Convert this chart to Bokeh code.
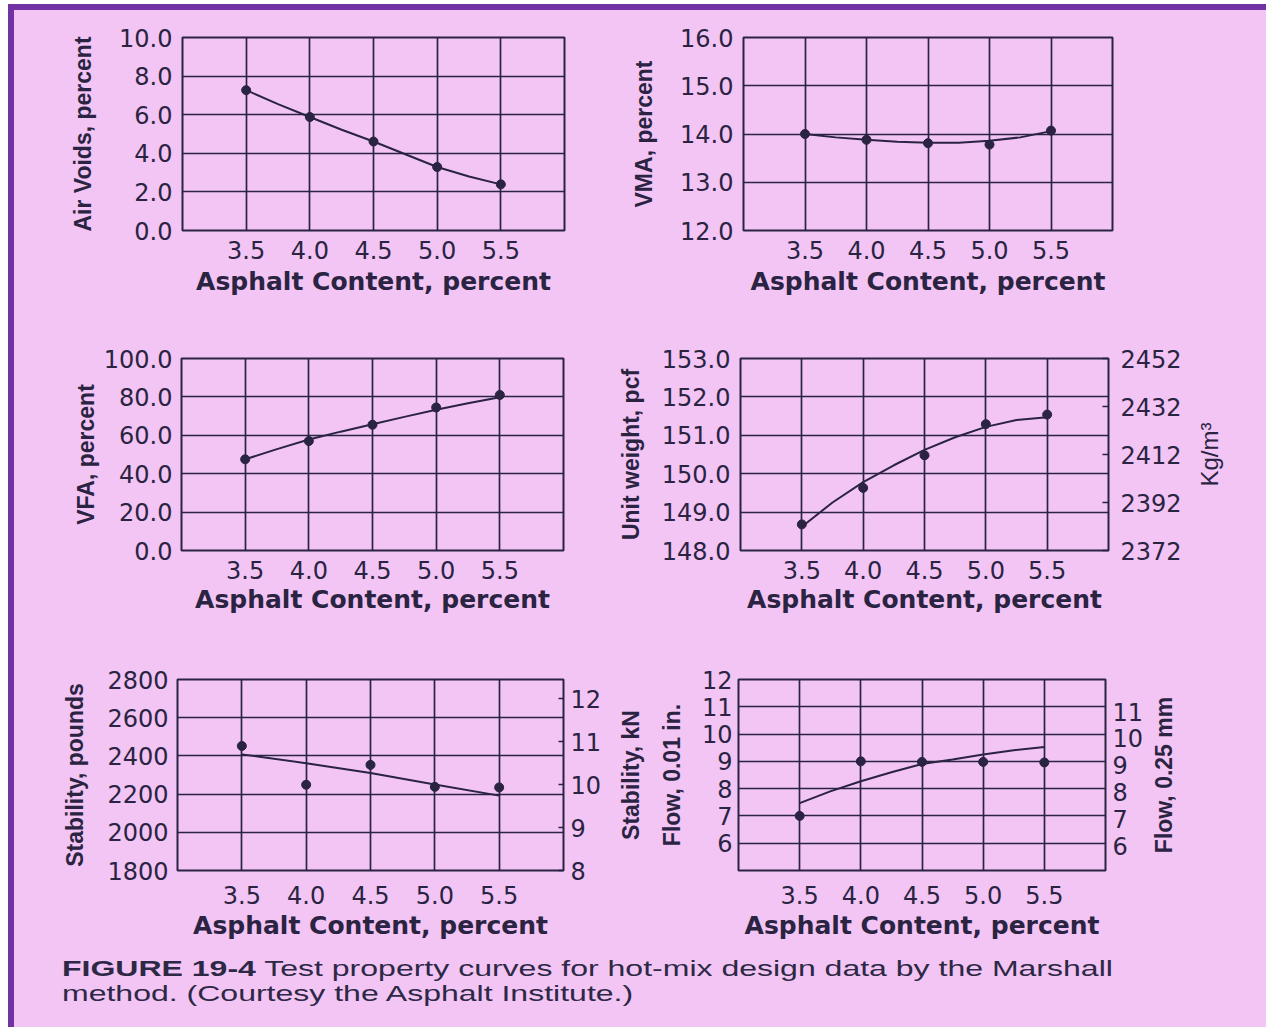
import math
from bokeh.plotting import figure
from bokeh.models import Range1d, LinearAxis, FixedTicker, NumeralTickFormatter, Div
from bokeh.layouts import column, row
from bokeh.embed import file_html
from bokeh.resources import INLINE

INK = "#2A2342"
PINK = "#F2C5F4"
PURPLE = "#7232A4"

# ---------------- data ----------------
asphalt = [3.5, 4.0, 4.5, 5.0, 5.5]
curve_x = [3.5, 3.75, 4.0, 4.25, 4.5, 4.75, 5.0, 5.25, 5.5]
x_ticks = [3.5, 4.0, 4.5, 5.0, 5.5]

air_voids = [7.27, 5.88, 4.61, 3.29, 2.39]
air_voids_curve = [7.27, 6.55, 5.88, 5.22, 4.61, 3.95, 3.29, 2.80, 2.39]
air_ticks = [0, 2, 4, 6, 8, 10]

vma = [14.0, 13.88, 13.81, 13.78, 14.07]
vma_curve = [14.0, 13.93, 13.88, 13.84, 13.82, 13.82, 13.86, 13.93, 14.06]
vma_ticks = [12, 13, 14, 15, 16]

vfa = [47.5, 57.0, 65.5, 74.5, 81.0]
vfa_curve = [47.5, 52.8, 57.8, 61.9, 65.8, 69.6, 73.3, 76.7, 79.8]
vfa_ticks = [0, 20, 40, 60, 80, 100]

unit_wt = [148.68, 149.63, 150.48, 151.29, 151.54]
unit_wt_curve = [148.62, 149.25, 149.78, 150.22, 150.62, 150.95, 151.22, 151.40, 151.47]
unit_wt_ticks = [148, 149, 150, 151, 152, 153]
kgm3_ticks = [2372, 2392, 2412, 2432, 2452]

stability = [2452, 2249, 2353, 2238, 2235]
stability_curve = [2408, 2362, 2310, 2250, 2192]
stability_ticks = [1800, 2000, 2200, 2400, 2600, 2800]
kn_ticks = [8, 9, 10, 11, 12]

flow = [7.0, 9.0, 8.98, 8.98, 8.96]
flow_curve = [7.47, 7.90, 8.27, 8.60, 8.90, 9.07, 9.25, 9.41, 9.53]
flow_ticks = [6, 7, 8, 9, 10, 11, 12]
flow_mm_ticks = [6, 7, 8, 9, 10, 11]

LBF_PER_KN = 224.809
MM_PER_UNIT = 0.254 / 0.25

TICK_FONT = "DejaVu Sans"
TICK_SIZE = "24px"
XTITLE_FONT = "DejaVu Sans"
XTITLE_SIZE = "25px"
YTITLE_FONT = "Liberation Sans"
YTITLE_SIZE = "23px"


def style_axis(ax):
    ax.axis_line_color = None
    ax.major_tick_line_color = None
    ax.minor_tick_line_color = None
    ax.major_tick_out = 0
    ax.major_tick_in = 0
    ax.minor_tick_out = 0
    ax.minor_tick_in = 0
    ax.major_label_text_font = TICK_FONT
    ax.major_label_text_font_size = TICK_SIZE
    ax.major_label_text_color = INK
    ax.axis_label_text_color = INK


def title_axis(ax, text, style, standoff, size=YTITLE_SIZE):
    # an axis that only carries a vertical title (no ticks, no labels)
    style_axis(ax)
    ax.ticker = FixedTicker(ticks=[])
    ax.major_label_standoff = 0
    ax.axis_label = text
    ax.axis_label_text_font = YTITLE_FONT
    ax.axis_label_text_font_size = size
    ax.axis_label_text_font_style = style
    ax.axis_label_standoff = standoff


def panel(y_lo, y_hi, y_ticks, y_fmt, grid_ticks, y_title, fw, fh,
          bl, br, bt, bb, ystand, ylstand, xstand, xlstand):
    p = figure(frame_width=fw, frame_height=fh,
               min_border_left=bl, min_border_right=br,
               min_border_top=bt, min_border_bottom=bb,
               x_range=Range1d(3.0, 6.0), y_range=Range1d(y_lo, y_hi),
               output_backend="svg", toolbar_location=None,
               background_fill_color=PINK, border_fill_color=PINK,
               outline_line_color=INK, outline_line_width=2)
    xa = p.xaxis[0]
    ya = p.yaxis[0]
    style_axis(xa)
    style_axis(ya)
    xa.ticker = FixedTicker(ticks=x_ticks)
    xa.formatter = NumeralTickFormatter(format="0.0")
    xa.major_label_standoff = xstand
    xa.axis_label = "Asphalt Content, percent"
    xa.axis_label_text_font = XTITLE_FONT
    xa.axis_label_text_font_size = XTITLE_SIZE
    xa.axis_label_text_font_style = "bold"
    xa.axis_label_standoff = xlstand
    ya.ticker = FixedTicker(ticks=y_ticks)
    ya.formatter = NumeralTickFormatter(format=y_fmt)
    ya.major_label_standoff = ystand
    ya.axis_label = y_title
    ya.axis_label_text_font = YTITLE_FONT
    ya.axis_label_text_font_size = YTITLE_SIZE
    ya.axis_label_text_font_style = "bold"
    ya.axis_label_standoff = ylstand
    p.xgrid.ticker = FixedTicker(ticks=x_ticks)
    p.ygrid.ticker = FixedTicker(ticks=grid_ticks)
    for g in (p.xgrid[0], p.ygrid[0]):
        g.grid_line_color = INK
        g.grid_line_width = 1.7
        g.grid_line_alpha = 1.0
    return p


def right_axis(p, name, lo, hi, ticks, fmt, stand, tick_in):
    p.extra_y_ranges = {name: Range1d(lo, hi)}
    ax = LinearAxis(y_range_name=name, ticker=FixedTicker(ticks=ticks),
                    formatter=NumeralTickFormatter(format=fmt))
    style_axis(ax)
    if tick_in:
        ax.major_tick_line_color = INK
        ax.major_tick_line_width = 1.5
        ax.major_tick_in = tick_in
    ax.major_label_standoff = stand
    p.add_layout(ax, "right")
    return ax


def side_title_fig(text, style, fh, bt, bb, bl, br, standoff, size=YTITLE_SIZE):
    # narrow companion figure whose left axis carries a right-hand title
    t = figure(frame_width=20, frame_height=fh,
               min_border_left=bl, min_border_right=br,
               min_border_top=bt, min_border_bottom=bb,
               x_range=Range1d(0, 1), y_range=Range1d(0, 1),
               x_axis_location=None,
               output_backend="svg", toolbar_location=None,
               background_fill_color=PINK, border_fill_color=PINK,
               outline_line_color=None)
    t.xgrid.visible = False
    t.ygrid.visible = False
    title_axis(t.yaxis[0], text, style, standoff, size)
    return t


def draw(p, pts, curve_xs, curve_ys):
    p.line(curve_xs, curve_ys, line_color=INK, line_width=2)
    p.scatter(asphalt, pts, size=9, color=INK)


# ---- row 1 ----
p1 = panel(0, 10, air_ticks, "0.0", air_ticks, "Air Voids, percent",
           382, 193, 168, 50, 27, 90, 10, 20, 10, 5)
draw(p1, air_voids, curve_x, air_voids_curve)

p2 = panel(12, 16, vma_ticks, "0.0", vma_ticks, "VMA, percent",
           369, 193, 129, 144, 27, 90, 10, 20, 10, 5)
draw(p2, vma, curve_x, vma_curve)

# ---- row 2 ----
p3 = panel(0, 100, vfa_ticks, "0.0", vfa_ticks, "VFA, percent",
           382, 192, 167, 51, 38, 90, 9, 2, 10, 3)
draw(p3, vfa, curve_x, vfa_curve)

p4 = panel(148, 153, unit_wt_ticks, "0.0", unit_wt_ticks, "Unit weight, pcf",
           368, 192, 123, 75, 38, 90, 10, 15, 10, 3)
right_axis(p4, "kg", 2372, 2452, kgm3_ticks, "0", 12, 6)
draw(p4, unit_wt, curve_x, unit_wt_curve)
t4 = side_title_fig("Kg/m\u00b3", "normal", 192, 38, 90, 38, 18, 0, "24px")

# ---- row 3 ----
p5 = panel(1800, 2800, stability_ticks, "0", stability_ticks, "Stability, pounds",
           386, 191, 163, 48, 39, 75, 9, 16, 15, 4)
right_axis(p5, "kn", 8.0, 8.0 + 1000 / LBF_PER_KN, kn_ticks, "0", 7, 5)
draw(p5, stability, asphalt, stability_curve)

p6 = panel(5, 12, flow_ticks, "0", flow_mm_ticks, "Flow, 0.01 in.",
           367, 191, 127, 40, 39, 75, 6, 14, 15, 4)
kn_title = LinearAxis()
title_axis(kn_title, "Stability, kN", "bold", 12)
p6.add_layout(kn_title, "left")
right_axis(p6, "mm", 5 * MM_PER_UNIT, 12 * MM_PER_UNIT, flow_mm_ticks, "0", 7, 0)
draw(p6, flow, curve_x, flow_curve)
t6 = side_title_fig("Flow, 0.25 mm", "bold", 191, 39, 75, 30, 61, 0)

line_style = ("font-family:'Liberation Sans'; font-size:22px; line-height:25px; "
              "height:25px; color:#2D2845; white-space:nowrap; "
              "transform:scaleX(1.455); transform-origin:0 0;")
caption_html = (
    '<div style="margin:6px 0 0 43px;">'
    '<div style="' + line_style + '"><b>FIGURE 19-4</b> Test property curves for '
    'hot-mix design data by the Marshall</div>'
    '<div style="' + line_style + '">method. (Courtesy the Asphalt Institute.)</div>'
    '</div>'
)
cap = Div(text=caption_html, width=1242, height=73,
          styles={"background-color": PINK})

layout = column(
    row(p1, p2, spacing=0),
    row(p3, p4, t4, spacing=0),
    row(p5, p6, t6, spacing=0),
    cap,
    spacing=0,
    styles={"background-color": PINK, "border": "6px solid " + PURPLE,
            "margin-left": "8px", "margin-top": "4px"},
)

open("out.html", "w").write(file_html(layout, INLINE))
